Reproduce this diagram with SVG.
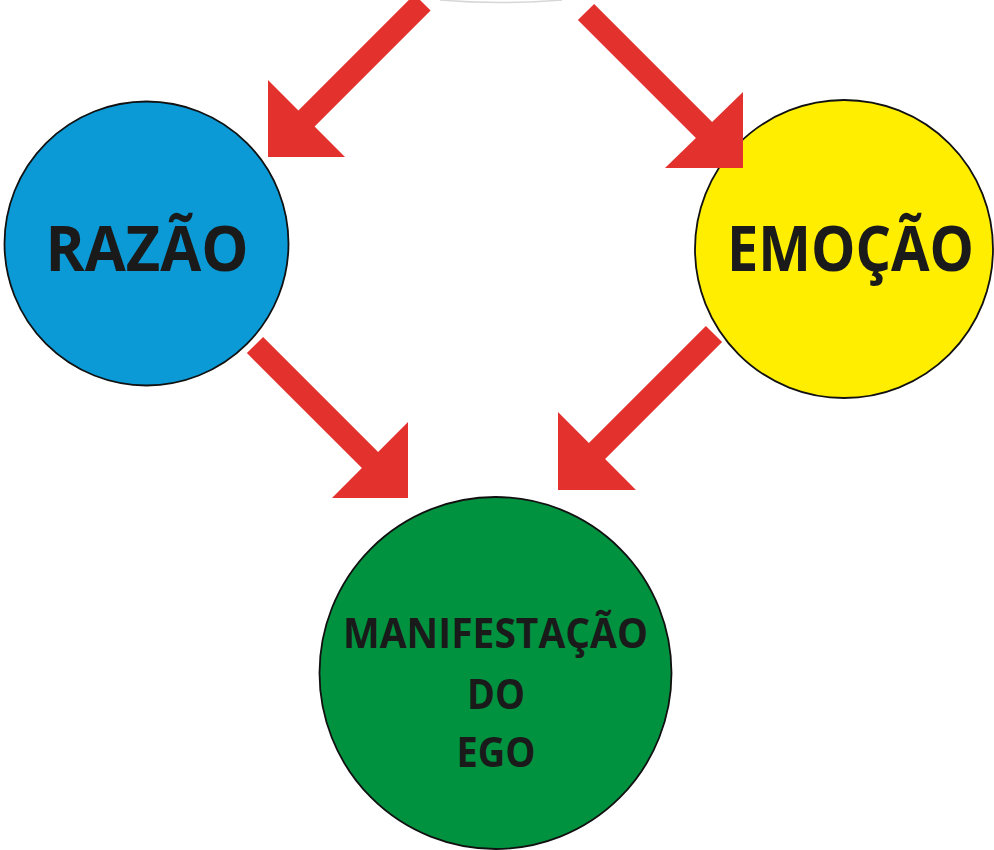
<svg xmlns="http://www.w3.org/2000/svg" width="994" height="850" viewBox="0 0 994 850">
  <style>
    .node { stroke: #111111; stroke-width: 1.8; }
    .lbl { font-family: "Open Sans", "Liberation Sans", sans-serif; font-weight: bold; fill: #1a1a1a; text-anchor: middle; }
    .big { font-size: 62px; }
    .small { font-size: 42px; }
    .arrow { fill: #e3312d; stroke: none; }
  </style>
  <rect width="994" height="850" fill="#ffffff"/>
  <path d="M 440 0 Q 500 5 562 0" fill="none" stroke="#d6d6d6" stroke-width="1.5"/>
  <g id="razao">
    <circle class="node" cx="146.5" cy="243.5" r="142" fill="#0b9ad6"/>
    <text class="lbl big" x="147" y="271" textLength="203" lengthAdjust="spacingAndGlyphs">RAZÃO</text>
  </g>
  <g id="emocao">
    <circle class="node" cx="844" cy="249" r="149" fill="#ffee00"/>
    <text class="lbl big" x="850.5" y="271" textLength="247" lengthAdjust="spacingAndGlyphs">EMOÇÃO</text>
  </g>
  <g id="manifestacao">
    <circle class="node" cx="495.5" cy="673" r="176" fill="#00923f"/>
    <text class="lbl small" x="495.5" y="648" textLength="305" lengthAdjust="spacingAndGlyphs">MANIFESTAÇÃO</text>
    <text class="lbl small" x="496" y="709" textLength="58" lengthAdjust="spacingAndGlyphs">DO</text>
    <text class="lbl small" x="496" y="767" textLength="79" lengthAdjust="spacingAndGlyphs">EGO</text>
  </g>
  <g id="connectors">
    <polygon class="arrow" points="268,157 268,80 298.4,110.4 414.4,-5.6 430.6,10.6 314.6,126.6 345,157"/>
    <polygon class="arrow" points="743,168 743,92 712.1,121.9 594.1,3.9 577.9,20.1 695.9,137.9 665,168"/>
    <polygon class="arrow" points="408,498 408,422 378.1,451.9 263.1,336.9 246.9,353.1 361.9,468.1 332,498"/>
    <polygon class="arrow" points="558,490 558,412 588.9,442.9 705.9,325.9 722.1,342.1 605.1,459.1 636,490"/>
  </g>
</svg>
